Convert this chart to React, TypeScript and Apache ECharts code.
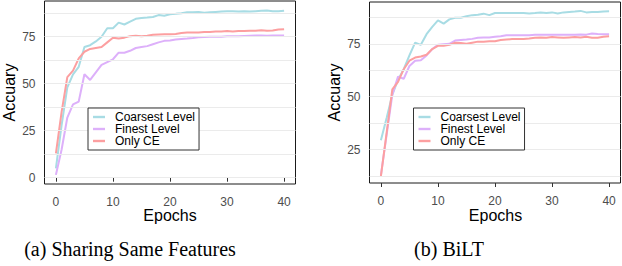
import React, { useEffect, useRef } from "react";
import * as echarts from "echarts";

const epochs = [0,1,2,3,4,5,6,7,8,9,10,11,12,13,14,15,16,17,18,19,20,21,22,23,24,25,26,27,28,29,30,31,32,33,34,35,36,37,38,39,40];

const seriesNames = ["Coarsest Level", "Finest Level", "Only CE"];
const seriesColors = ["#A8DCE4", "#DDB0FA", "#FC9FA0"];

// (a) Sharing Same Features
const aCoarsest = [5,28,48,55,59,69.5,70.5,72.5,75,79.5,79.5,82.5,81.5,83,84.5,85,85.2,85.5,86.5,86.2,87,87.2,87.5,88,88,88.2,87.8,88,88.2,88.4,88.6,88.6,88.4,88.5,88.4,88.6,88.8,89,88.6,88.5,88.8];
const aFinest = [1.5,15,32,39,40.5,55,52,56,60,61.5,63,66.5,66.5,67.5,69,69.5,70,71,72,72.8,73,73.5,73.8,74,74.3,74.7,74.8,75,75,75,75.2,75.3,75.3,75.4,75.5,75.6,75.6,75.5,75.6,75.6,75.6];
const aOnlyCE = [13,35,53.5,57,63.5,67,68.5,69,69.5,72,74.5,74,74.5,75.3,75.5,75.3,75.5,76,76.2,76.3,76.3,76.5,77,77.2,77.3,77.3,77.5,77.5,77.8,77.8,78,77.8,78,78,78.2,78.2,78.5,78.2,78.3,78.8,79];

// (b) BiLT
const bCoarsest = [29.5,40,51,58,63,69.5,75.5,74.5,79.5,83,86,84.5,86.5,87.3,87.3,88,88.5,88.7,89.2,88.5,89.5,89.5,89.5,89.5,89.5,89.5,89.3,89.5,89.8,89.5,89.8,89.3,89.8,90,90.2,90.5,89.8,90,90,90.2,90.3];
const bFinest = [13,32,51,59.5,58.5,64.5,67,67.2,69.5,72.5,74.5,74.8,75,76.5,76.8,77,77.3,77.8,78,78,78.3,78.5,79,79,79,79,79,79.2,79.2,79.3,79.2,79.3,79.3,79.3,79.3,79.4,79.3,79.8,79.6,79.5,79.5];
const bOnlyCE = [12.5,33,53.5,57,63,67,68.5,69,69.8,72.5,74,74,74.5,75.5,75.3,75,75.5,76,76,76.2,76.2,76.8,77,77.2,77.3,77.3,77.5,77.8,78,77.8,78.2,78,77.8,78,78.2,78,78.3,77.8,77.8,78.3,78.5];

const xTicks = [0, 10, 20, 30, 40];
const aYTicks = [0, 25, 50, 75];
const bYTicks = [25, 50, 75];
const aGridLines = [0, 12.5, 25, 37.5, 50, 62.5, 75, 87.5];
const bGridLines = [12.5, 25, 37.5, 50, 62.5, 75, 87.5];

const captions = ["(a) Sharing Same Features", "(b) BiLT"];
const xTitle = "Epochs";
const yTitle = "Accuary";

const SANS = "Liberation Sans, Arial, Helvetica, sans-serif";
const SERIF = "Liberation Serif, Times New Roman, serif";

export default function App() {
  const ref = useRef<HTMLDivElement>(null);

  useEffect(() => {
    if (!ref.current) return;
    const chart = echarts.init(ref.current, null, { renderer: "svg" });

    const pairs = (vals: number[]) => epochs.map((e, i) => [e, vals[i]]);

    const panels = [
      { grid: { left: 44.5, top: 1, width: 251, height: 183 }, ymin: -3.35, ymax: 94, yTicks: aYTicks, gl: aGridLines, data: [aCoarsest, aFinest, aOnlyCE] },
      { grid: { left: 369.5, top: 2, width: 251, height: 181 }, ymin: 9.3, ymax: 94.7, yTicks: bYTicks, gl: bGridLines, data: [bCoarsest, bFinest, bOnlyCE] },
    ];

    const axisLabelStyle = { color: "#4D4D4D", fontSize: 12, fontFamily: SANS };

    const series: any[] = [];
    panels.forEach((p, pi) => {
      series.push({
        name: "_grid" + pi,
        type: "line",
        xAxisIndex: pi,
        yAxisIndex: pi,
        data: [],
        z: 1,
        silent: true,
        markLine: {
          silent: true,
          symbol: ["none", "none"],
          label: { show: false },
          lineStyle: { color: "#EBEBEB", width: 1, type: "solid" },
          emphasis: { disabled: true },
          data: p.gl.map((v) => ({ yAxis: v })),
        },
      });
      p.data.forEach((vals, si) => {
        series.push({
          name: seriesNames[si],
          type: "line",
          xAxisIndex: pi,
          yAxisIndex: pi,
          data: pairs(vals),
          symbol: "none",
          showSymbol: false,
          z: 2,
          lineStyle: { color: seriesColors[si], width: 2 },
          itemStyle: { color: seriesColors[si] },
          emphasis: { disabled: true },
        });
      });
    });

    const legendCommon = {
      orient: "vertical",
      data: seriesNames.map((n) => ({ name: n, icon: "path://M0,0H12V2.4H0Z" })),
      borderColor: "#333333",
      borderWidth: 1,
      backgroundColor: "#ffffff",
      z: 10,
      padding: [3, 4, 3, 5],
      itemGap: 0,
      itemWidth: 12,
      itemHeight: 2.4,
      selectedMode: false,
      textStyle: { fontSize: 12, color: "#000", fontFamily: SANS, lineHeight: 11.8, padding: [0, 0, 0, 5] },
    };

    chart.setOption({
      animation: false,
      backgroundColor: "#ffffff",
      grid: panels.map((p) => ({ ...p.grid, show: true, borderColor: "#1A1A1A", borderWidth: 1, backgroundColor: "transparent" })),
      xAxis: panels.map((p, pi) => ({
        type: "value",
        gridIndex: pi,
        min: -2,
        max: 42,
        axisLine: { show: false },
        splitLine: { show: false },
        axisTick: { show: true, length: 4, lineStyle: { color: "#333333" }, customValues: xTicks },
        axisLabel: { ...axisLabelStyle, margin: 11.5, customValues: xTicks },
      })),
      yAxis: panels.map((p, pi) => ({
        type: "value",
        gridIndex: pi,
        min: p.ymin,
        max: p.ymax,
        axisLine: { show: false },
        splitLine: { show: false },
        minorSplitLine: { show: false },
        axisTick: { show: true, length: 4, lineStyle: { color: "#333333" }, customValues: p.yTicks },
        axisLabel: { ...axisLabelStyle, margin: 9, customValues: p.yTicks },
      })),
      legend: [
        { ...legendCommon, left: 88, top: 108 },
        { ...legendCommon, left: 413.5, top: 108 },
      ],
      series,
      graphic: [
        { type: "text", x: 9, y: 92.5, rotation: Math.PI / 2, style: { text: yTitle, fontSize: 16, fontFamily: SANS, fill: "#000", align: "center", verticalAlign: "middle" } },
        { type: "text", x: 334.5, y: 92.5, rotation: Math.PI / 2, style: { text: yTitle, fontSize: 16, fontFamily: SANS, fill: "#000", align: "center", verticalAlign: "middle" } },
        { type: "text", x: 170, y: 215, style: { text: xTitle, fontSize: 16, fontFamily: SANS, fill: "#000", align: "center", verticalAlign: "middle" } },
        { type: "text", x: 495.5, y: 215, style: { text: xTitle, fontSize: 16, fontFamily: SANS, fill: "#000", align: "center", verticalAlign: "middle" } },
        { type: "text", x: 130, y: 249, style: { text: captions[0], fontSize: 20, fontFamily: SERIF, fill: "#000", align: "center", verticalAlign: "middle" } },
        { type: "text", x: 449, y: 249, style: { text: captions[1], fontSize: 20, fontFamily: SERIF, fill: "#000", align: "center", verticalAlign: "middle" } },
      ],
    });

    return () => chart.dispose();
  }, []);

  return <div ref={ref} style={{ position: "fixed", left: 0, top: 0, width: 622, height: 266 }} />;
}
